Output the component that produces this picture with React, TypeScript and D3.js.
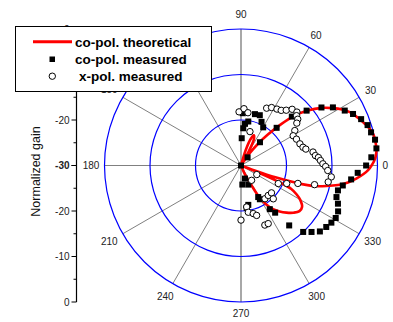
import React from "react";
import * as d3 from "d3";

const W = 393, H = 322;
const cx = 241, cy = 165.5, R = 136.5;
const axisX = 76.5;

// theoretical co-pol pattern (angle deg, gain dB)
const theoAngle = [-75, -66, -62, -60, -57, -54, -50, -46, -42, -38, -34, -30, -27.5, -25, -23.5, -22, -21, -20, -19, -17.5, -15.5, -13, -11, -9, -6.5, -4, -2, 0, 2, 4, 7, 10, 13, 16, 19, 22, 25.5, 29, 32, 35.5, 39.5, 43, 46, 49, 52, 55, 58, 61, 64, 67, 70, 73, 76];
const theoGain = [-30, -28, -25, -22, -19.8, -18.2, -16.8, -15.6, -14.5, -13.7, -13.8, -15.0, -16.2, -17.8, -21, -27, -30, -27, -22, -17.5, -13, -10.2, -7.9, -6.2, -4.5, -3.0, -2.0, -1.3, -0.7, -0.3, 0, 0, -0.1, -0.6, -1.4, -2.2, -3.1, -4.6, -6.2, -8.2, -11.0, -14.0, -17.5, -21, -24, -27, -30, -27, -23.5, -22.8, -23.8, -26.5, -30];

// co-pol measured
const coAngle = [43.9, 46.6, 39.9, 35.8, 32.3, 27.9, 24.7, 21.1, 17.7, 14.3, 10.9, 7.2, 3.6, 0, -3.6, -7.2, -11.1, -14.4, -18.3, -21.5, -25.3, -29, -32.3, -35.8, -39.9, -43.3, -46.9, -51.2, -54.1, -56.6, -60.8, -61.4, -69, -73, -86, -79.5, -82.4, 0, 88, 74.8, 69.5, 80.6, 84.5, 86.5, 64.8, 59.8, 88.5, 50.8, 51];
const coGain = [-14.5, -18.6, -11.2, -8.2, -6.1, -4.2, -2.9, -1.7, -0.8, -0.5, 0, 0, -1.3, -2.5, -4.3, -5.6, -7.2, -8.0, -7.9, -7.1, -6.4, -6.2, -6.5, -6.9, -7.4, -8.7, -10.0, -13.1, -17.2, -18.5, -21.5, -22.1, -25.5, -27, -25.8, -21.2, -20.6, -30, -18.5, -18.3, -18.2, -20.2, -20.8, -21.8, -19.4, -20.3, -24, -23.4, -27.7];

// x-pol measured
const xAngle = [92.1, 87, 82.5, 75.2, 65.9, 62.2, 57.5, 53.9, 50.7, 47.7, 43.7, 41.9, 39.2, 37.2, 33, 29.7, 25.4, 20.2, 16.4, 14.2, 10.6, 7.6, 5.9, 3.6, 1.2, -0.7, -3.3, -7.2, -10.7, -14.6, -17.5, -21.5, -25.8, -29.8, -54.5, -54.2, -47.7, -41.9, -45.9, -82.2, -81.1, -75.7, -72.6, -90, -68.2, -64.9];
const xGain = [-18.2, -17.5, -18.3, -22.3, -16.2, -15.6, -15.3, -15.0, -14.3, -13.3, -13.0, -13.6, -13.9, -14.6, -15.9, -16.8, -16.5, -16.2, -15.8, -15.3, -13.9, -13.5, -12.9, -12.5, -12.0, -11.4, -10.9, -10.0, -10.5, -13.3, -16.9, -19.2, -20.9, -26.0, -26.0, -21.0, -21.1, -21.0, -19.8, -20.8, -19.6, -19.1, -18.5, -18.0, -15.9, -15.9];

const angleTicks = [0, 30, 60, 90, 120, 150, 180, 210, 240, 270, 300, 330];
const ringTicks = [-20, -10, 0];
const gainMajor = [-30, -20, -10, 0];
const gainMinor = [-25, -15, -5];

const legendItems = ["co-pol. theoretical", "co-pol. measured", "x-pol. measured"];

const FONT = "'Liberation Sans', Arial, sans-serif";

export default function App() {
  const r = d3.scaleLinear().domain([-30, 0]).range([0, R]).clamp(true);
  const rad = (a: number) => (a * Math.PI) / 180;
  const pt = (a: number, g: number): [number, number] => [
    cx + r(g) * Math.cos(rad(a)),
    cy - r(g) * Math.sin(rad(a)),
  ];
  const yTop = d3.scaleLinear().domain([-30, 0]).range([cy, cy - R]);
  const yBot = d3.scaleLinear().domain([-30, 0]).range([cy, cy + R]);

  const theoPts = theoAngle.map((a, i) => pt(a, theoGain[i]));
  const line = d3.line().curve(d3.curveCatmullRom.alpha(0.5));
  const theoPath = line(theoPts) || "";

  const labelPos = (a: number) => {
    const txt = String(a);
    const halfW = txt.length * 2.8;
    const c = Math.cos(rad(a)), s = Math.sin(rad(a));
    const vert = s > 0.95 ? 10 : 6.5;
    const rr = R + 5 + halfW * Math.abs(c) + vert * Math.abs(s);
    return [cx + rr * c, cy - rr * s];
  };

  return (
    <svg width={W} height={H} style={{ position: "absolute", left: 0, top: 0, background: "#fff" }} fontFamily={FONT}>
      <rect width={W} height={H} fill="#fff" />
      {/* spokes */}
      {angleTicks.map((a) => {
        const [x2, y2] = pt(a, 0);
        const isV = a === 90 || a === 270;
        return (
          <line key={"sp" + a} x1={cx} y1={cy} x2={x2} y2={y2}
            stroke={isV ? "#a8a8a8" : "#808080"} strokeWidth={isV ? 2 : 1} />
        );
      })}
      {/* rings */}
      {ringTicks.map((g) => (
        <circle key={"ring" + g} cx={cx} cy={cy} r={r(g)} fill="none" stroke="#0000ff" strokeWidth={1.2} />
      ))}
      {/* angle labels */}
      {angleTicks.map((a) => {
        const [x, y] = labelPos(a);
        return (
          <text key={"al" + a} x={x} y={y} dy="0.35em" textAnchor="middle" fontSize={10} fill="#222">{a}</text>
        );
      })}
      {/* left axis */}
      <line x1={axisX} x2={axisX} y1={yTop(0)} y2={yBot(0)} stroke="#000" strokeWidth={1.2} />
      {gainMajor.map((g) => (
        <g key={"gm" + g}>
          <line x1={axisX - 5} x2={axisX} y1={yTop(g)} y2={yTop(g)} stroke="#000" />
          <line x1={axisX - 5} x2={axisX} y1={yBot(g)} y2={yBot(g)} stroke="#000" />
          <text x={axisX - 7} y={yTop(g)} dy="0.35em" textAnchor="end" fontSize={10}
            fontWeight={g === -30 ? "bold" : "normal"} fill="#222">{g}</text>
          {g !== -30 && (
            <text x={axisX - 7} y={yBot(g)} dy="0.35em" textAnchor="end" fontSize={10} fill="#222">{g}</text>
          )}
        </g>
      ))}
      {gainMinor.map((g) => (
        <g key={"gn" + g}>
          <line x1={axisX - 3} x2={axisX} y1={yTop(g)} y2={yTop(g)} stroke="#000" />
          <line x1={axisX - 3} x2={axisX} y1={yBot(g)} y2={yBot(g)} stroke="#000" />
        </g>
      ))}
      <text transform={`translate(40,171.5) rotate(-90)`} textAnchor="middle" fontSize={12.5} fill="#111">Normalized gain</text>
      {/* theoretical */}
      <path d={theoPath} fill="none" stroke="#ff0000" strokeWidth={2.6} strokeLinejoin="round" />
      {/* co-pol measured */}
      {coAngle.map((a, i) => {
        const [x, y] = pt(a, coGain[i]);
        return <rect key={"co" + i} x={x - 3} y={y - 3} width={6} height={6} fill="#000" />;
      })}
      {/* x-pol measured */}
      {xAngle.map((a, i) => {
        const [x, y] = pt(a, xGain[i]);
        return <circle key={"xp" + i} cx={x} cy={y} r={3.2} fill="#fff" stroke="#000" strokeWidth={1} />;
      })}
      {/* legend */}
      <rect x={15.5} y={26.5} width={196} height={65} fill="#fff" stroke="#000" strokeWidth={1} />
      <line x1={33} x2={72} y1={41.7} y2={41.7} stroke="#ff0000" strokeWidth={3} />
      <rect x={49.5} y={56.5} width={5.5} height={5.5} fill="#000" />
      <circle cx={52.3} cy={76.2} r={3.2} fill="#fff" stroke="#000" strokeWidth={1} />
      <text x={75} y={46.7} fontSize={13.5} fontWeight="bold" fill="#000">{legendItems[0]}</text>
      <text x={75} y={63.8} fontSize={13.5} fontWeight="bold" fill="#000">{legendItems[1]}</text>
      <text x={79} y={81.3} fontSize={13.5} fontWeight="bold" fill="#000">{legendItems[2]}</text>
    </svg>
  );
}
